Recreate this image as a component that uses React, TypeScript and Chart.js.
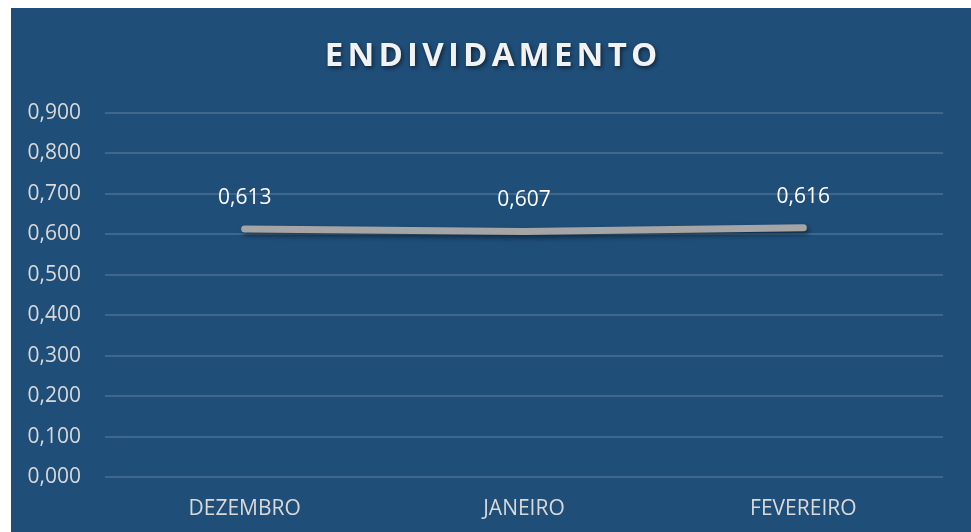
import React, { useEffect, useRef } from "react";
import { Chart, registerables } from "chart.js";

Chart.register(...registerables);

const TITLE = "ENDIVIDAMENTO";
const categories = ["DEZEMBRO", "JANEIRO", "FEVEREIRO"];
const values = [0.613, 0.607, 0.616];
const yMin = 0;
const yMax = 0.9;
const yStep = 0.1;

const BG = "#1F4E79";
const TEXT = "#D9D9D9";
const FONT = "'Open Sans', 'Noto Sans', sans-serif";

const fmt = (v: number) => v.toFixed(3).replace(".", ",");

export default function App() {
  const ref = useRef<HTMLCanvasElement | null>(null);

  useEffect(() => {
    document.body.style.margin = "0";
    document.body.style.overflow = "hidden";
    const canvas = ref.current;
    if (!canvas) return;

    const bgPlugin = {
      id: "bg",
      beforeDraw(chart: any) {
        const { ctx, width, height } = chart;
        ctx.save();
        ctx.fillStyle = BG;
        ctx.fillRect(0, 0, width, height);
        ctx.restore();
      },
    };

    const titlePlugin = {
      id: "customTitle",
      afterDraw(chart: any) {
        const { ctx, width } = chart;
        ctx.save();
        ctx.font = `bold 33px ${FONT}`;
        (ctx as any).letterSpacing = "4.2px";
        ctx.textAlign = "center";
        ctx.textBaseline = "middle";
        ctx.shadowColor = "rgba(0,0,0,0.55)";
        ctx.shadowBlur = 4;
        ctx.shadowOffsetX = 1.5;
        ctx.shadowOffsetY = 2;
        ctx.fillStyle = "#F2F2F2";
        ctx.fillText(TITLE, width / 2 + 2.1, 49);
        ctx.restore();
      },
    };

    const shadowPlugin = {
      id: "lineShadow",
      beforeDatasetsDraw(chart: any) {
        const ctx = chart.ctx;
        ctx.save();
        ctx.shadowColor = "rgba(0,0,0,0.45)";
        ctx.shadowBlur = 5;
        ctx.shadowOffsetX = 2;
        ctx.shadowOffsetY = 3;
      },
      afterDatasetsDraw(chart: any) {
        chart.ctx.restore();
      },
    };

    const labelPlugin = {
      id: "dataLabels",
      afterDatasetsDraw(chart: any) {
        const { ctx } = chart;
        const meta = chart.getDatasetMeta(0);
        ctx.save();
        ctx.font = `21px ${FONT}`;
        ctx.fillStyle = "#FFFFFF";
        ctx.textAlign = "center";
        ctx.textBaseline = "middle";
        meta.data.forEach((pt: any, i: number) => {
          ctx.fillText(fmt(values[i]), pt.x, pt.y - 31);
        });
        ctx.restore();
      },
    };

    const chart = new Chart(canvas, {
      type: "line",
      data: {
        labels: categories,
        datasets: [
          {
            data: values,
            borderColor: "#A5A5A5",
            borderWidth: 7,
            borderCapStyle: "round",
            borderJoinStyle: "round",
            pointRadius: 0,
            pointHoverRadius: 0,
            tension: 0,
            fill: false,
          },
        ],
      },
      options: {
        responsive: false,
        animation: false,
        layout: { padding: { top: 105, left: 0, right: 28, bottom: 0 } },
        plugins: {
          legend: { display: false },
          title: { display: false },
          tooltip: { enabled: false },
        },
        scales: {
          x: {
            offset: true,
            grid: { display: false, drawTicks: false },
            border: { display: false },
            ticks: { color: TEXT, font: { family: FONT, size: 21 }, padding: 19 },
            afterFit: (scale: any) => {
              scale.height = 55;
            },
          },
          y: {
            min: yMin,
            max: yMax,
            grid: { color: "rgba(255,255,255,0.14)", lineWidth: 2, drawTicks: false },
            border: { display: false },
            ticks: {
              stepSize: yStep,
              color: TEXT,
              font: { family: FONT, size: 21 },
              padding: 24,
              callback: (v: any) => fmt(Number(v)),
            },
            afterFit: (scale: any) => {
              scale.width = 94;
            },
          },
        },
      },
      plugins: [bgPlugin, shadowPlugin, labelPlugin, titlePlugin],
    });

    return () => chart.destroy();
  }, []);

  return (
    <div style={{ marginLeft: 11, paddingTop: 8, width: 960, height: 524 }}>
      <canvas ref={ref} width={960} height={524} style={{ display: "block" }} />
    </div>
  );
}
